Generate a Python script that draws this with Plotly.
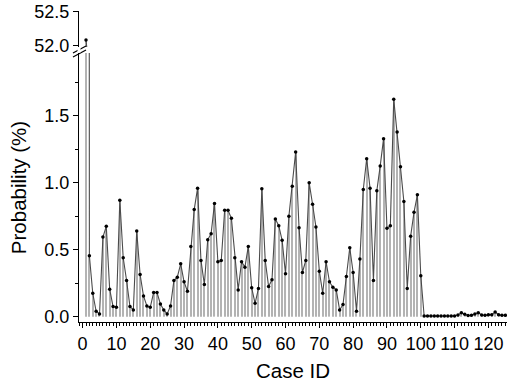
import plotly.graph_objects as go

cases = list(range(1, 126))
probability = [
    52.08, 0.455, 0.175, 0.04, 0.02, 0.595, 0.675, 0.205, 0.075, 0.07,
    0.87, 0.44, 0.27, 0.075, 0.05, 0.64, 0.315, 0.155, 0.08, 0.07,
    0.18, 0.18, 0.095, 0.05, 0.02, 0.08, 0.27, 0.295, 0.395, 0.26,
    0.19, 0.525, 0.80, 0.96, 0.42, 0.24, 0.575, 0.62, 0.845, 0.41,
    0.42, 0.795, 0.795, 0.735, 0.44, 0.20, 0.41, 0.37, 0.525, 0.215,
    0.10, 0.21, 0.955, 0.42, 0.225, 0.275, 0.73, 0.68, 0.57, 0.32,
    0.75, 0.975, 1.23, 0.665, 0.33, 0.42, 1.0, 0.84, 0.67, 0.34,
    0.175, 0.41, 0.26, 0.22, 0.20, 0.05, 0.09, 0.30, 0.515, 0.33,
    0.04, 0.43, 0.95, 1.18, 0.96, 0.27, 0.94, 1.125, 1.33, 0.66,
    0.68, 1.625, 1.38, 1.12, 0.86, 0.21, 0.60, 0.78, 0.91, 0.305,
    0.005, 0.005, 0.005, 0.005, 0.005, 0.005, 0.005, 0.005, 0.005, 0.005,
    0.012, 0.03, 0.018, 0.008, 0.01, 0.02, 0.03, 0.012, 0.01, 0.015,
    0.015, 0.035, 0.015, 0.01, 0.01,
]
x_ticks = list(range(0, 121, 10))
low_ticks = [0.0, 0.5, 1.0, 1.5]
high_ticks = [52.0, 52.5]

W, H = 510, 384
ML, MR, MT, MB = 79, 3, 11, 62
PH = H - MT - MB
PW = W - ML - MR


def py(y):
    return (H - MB - y) / PH


def px(x):
    return (x - ML) / PW


FONT = "Liberation Sans, Arial, sans-serif"
stem_col = "#b3b3b3"
line_col = "#4a4a4a"

fig = go.Figure()
for ya in ["y", "y2"]:
    fig.add_trace(go.Bar(x=cases, y=probability, yaxis=ya, width=0.32,
                         marker=dict(color=stem_col, line=dict(width=0)),
                         showlegend=False, hoverinfo="skip"))
    fig.add_trace(go.Scatter(x=cases, y=probability, yaxis=ya, mode="lines+markers",
                             line=dict(color=line_col, width=1.1),
                             marker=dict(color="black", size=3.5),
                             showlegend=False))

axis_common = dict(showline=True, linecolor="black", linewidth=1.2, showgrid=False,
                   zeroline=False, ticks="outside", ticklen=5, tickwidth=1.2,
                   automargin=False, ticklabeloverflow="allow",
                   tickcolor="black", tickfont=dict(family=FONT, size=18, color="black"))

fig.update_layout(
    width=W, height=H,
    margin=dict(l=ML, r=MR, t=MT, b=MB),
    paper_bgcolor="white", plot_bgcolor="white",
    barmode="overlay",
    font=dict(family=FONT, color="black"),
    xaxis=dict(range=[-1.07, 125.5], tickvals=x_ticks, anchor="y",
               minor=dict(dtick=1, tick0=0, ticks="outside", ticklen=3, tickcolor="black"),
               title=dict(text="Case ID", font=dict(family=FONT, size=20.5), standoff=10),
               **axis_common),
    yaxis=dict(domain=[0, py(53)], range=[-0.04, 1.97], tickvals=low_ticks,
               tickformat=".1f",
               minor=dict(dtick=0.25, tick0=0, ticks="outside", ticklen=3, tickcolor="black"),
               title=dict(text="Probability (%)", font=dict(family=FONT, size=20.5), standoff=12),
               **axis_common),
    yaxis2=dict(domain=[py(47), 1], range=[51.975, 52.51], tickvals=high_ticks,
                tickformat=".1f", anchor="x", **axis_common),
)

# axis break marks
for dy in (0, 4):
    fig.add_shape(type="line", xref="paper", yref="paper",
                  x0=px(73), y0=py(53 + dy), x1=px(86), y1=py(46 + dy),
                  line=dict(color="black", width=1.2))
fig.add_shape(type="line", xref="paper", yref="paper",
              x0=px(79), y0=py(52.5), x1=px(79), y1=py(47.5),
              line=dict(color="white", width=3), layer="above")

fig.write_html("out.html", config={"displayModeBar": False},
               post_script="document.body.style.margin='0';")
